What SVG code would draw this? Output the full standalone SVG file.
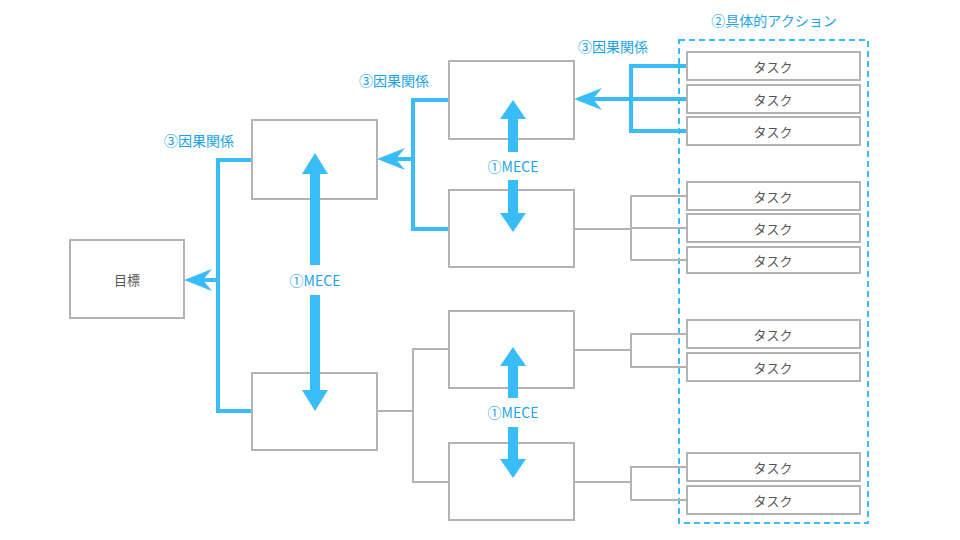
<svg xmlns="http://www.w3.org/2000/svg" width="960" height="540" viewBox="0 0 960 540">
<style>
.box{fill:#fff;stroke:#b3b3b3;stroke-width:2}
.t{font-family:"Noto Sans CJK JP","Liberation Sans",sans-serif;font-size:13px;fill:#555;text-anchor:middle;dominant-baseline:central}
.b{font-family:"Noto Sans CJK JP","Liberation Sans",sans-serif;font-size:14px;fill:#1aa3e8;text-anchor:middle;dominant-baseline:central}
.bl{fill:none;stroke:#38bdf8;stroke-width:4}
.gl{fill:none;stroke:#b3b3b3;stroke-width:2}
.ah{fill:#38bdf8}
</style>
<rect x="679" y="40" width="189" height="483" fill="none" stroke="#38bdf8" stroke-width="2" stroke-dasharray="6,4"/>
<g id="connectors">
<path class="bl" d="M252,160H218V411H252M218,280H192"/>
<path class="ah" d="M184,280L212,269L203,280L212,291Z"/>
<path class="bl" d="M449,100H413V229H449M413,159H385"/>
<path class="ah" d="M377,159L405,148L396,159L405,170Z"/>
<path class="bl" d="M687,66H631V131H687M687,99H582"/>
<path class="ah" d="M574,99L602,88L593,99L602,110Z"/>
<path class="gl" d="M574,229H631M687,196H631V260H687M631,228H687"/>
<path class="gl" d="M574,350H631M687,334H631V367H687"/>
<path class="gl" d="M574,482H631M687,467H631V500H687"/>
<path class="gl" d="M377,411H413M449,349H413V482H449"/>
</g>
<g id="goal"><rect class="box" x="70" y="240" width="114" height="78"/><text class="t" x="127" y="279">目標</text></g>
<g id="l1a"><rect class="box" x="252" y="120" width="125" height="79"/></g>
<g id="l1b"><rect class="box" x="252" y="373" width="125" height="77"/></g>
<g id="l2a"><rect class="box" x="449" y="61" width="125" height="78"/></g>
<g id="l2b"><rect class="box" x="449" y="190" width="125" height="77"/></g>
<g id="l2c"><rect class="box" x="449" y="311" width="125" height="77"/></g>
<g id="l2d"><rect class="box" x="449" y="443" width="125" height="77"/></g>
<g id="tasks">
<rect class="box" x="687" y="52" width="173" height="28"/><text class="t" x="773" y="66">タスク</text>
<rect class="box" x="687" y="85" width="173" height="28"/><text class="t" x="773" y="99">タスク</text>
<rect class="box" x="687" y="117" width="173" height="28"/><text class="t" x="773" y="131">タスク</text>
<rect class="box" x="687" y="182" width="173" height="28"/><text class="t" x="773" y="196">タスク</text>
<rect class="box" x="687" y="214" width="173" height="28"/><text class="t" x="773" y="228">タスク</text>
<rect class="box" x="687" y="247" width="173" height="26"/><text class="t" x="773" y="260">タスク</text>
<rect class="box" x="687" y="320" width="173" height="28"/><text class="t" x="773" y="334">タスク</text>
<rect class="box" x="687" y="353" width="173" height="28"/><text class="t" x="773" y="367">タスク</text>
<rect class="box" x="687" y="453" width="173" height="28"/><text class="t" x="773" y="467">タスク</text>
<rect class="box" x="687" y="486" width="173" height="28"/><text class="t" x="773" y="500">タスク</text>
</g>
<g id="mece">
<path class="ah" d="M315,153L328,174H320V265H310V174H302Z"/>
<path class="ah" d="M315,411L328,390H320V295H310V390H302Z"/>
<text class="b" x="315" y="280">①MECE</text>
<path class="ah" d="M513,100L526,119H518V152H508V119H500Z"/>
<path class="ah" d="M513,232L526,213H518V180H508V213H500Z"/>
<text class="b" x="513" y="166">①MECE</text>
<path class="ah" d="M513,347L526,366H518V398H508V366H500Z"/>
<path class="ah" d="M513,478L526,459H518V427H508V459H500Z"/>
<text class="b" x="513" y="412">①MECE</text>
</g>
<g id="labels">
<text class="b" x="199" y="140">③因果関係</text>
<text class="b" x="394" y="80">③因果関係</text>
<text class="b" x="613" y="46">③因果関係</text>
<text class="b" x="774" y="20">②具体的アクション</text>
</g>
</svg>
